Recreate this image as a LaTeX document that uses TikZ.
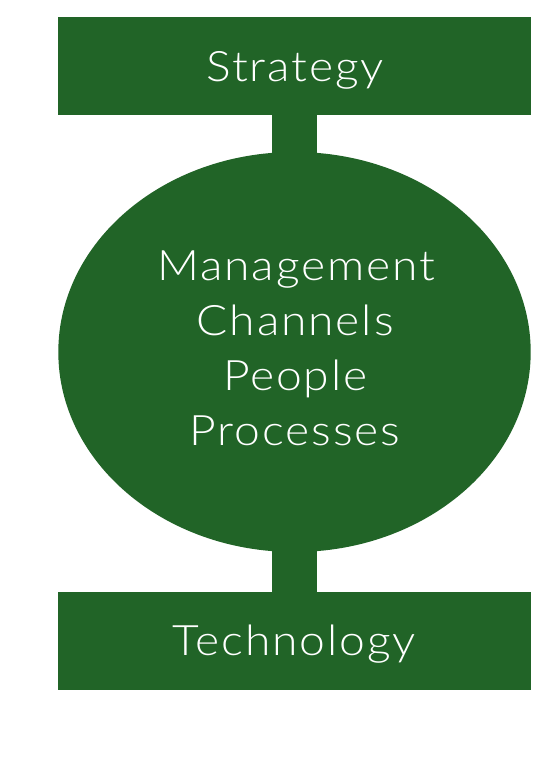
\documentclass[tikz,border=0pt]{standalone}
\usepackage{fontspec}
\IfFontExistsTF{Lato Light}{\setmainfont{Lato Light}[FakeStretch=1.1,LetterSpace=4.5]}{\setmainfont{Lato}[FakeStretch=1.1,LetterSpace=4.5]}
\usetikzlibrary{shapes.geometric}
\definecolor{dgreen}{RGB}{33,100,39}
\tikzset{
  box/.style={rectangle, fill=dgreen, draw=none, minimum width=472bp, minimum height=98bp, inner sep=0pt},
  oval/.style={ellipse, fill=dgreen, draw=none, minimum width=472.4bp, minimum height=400bp, inner sep=0pt},
  txt/.style={text=white, anchor=base, inner sep=0pt, font=\fontsize{42bp}{55bp}\selectfont},
  bar/.style={draw=dgreen, line width=45bp}
}
\begin{document}
\begin{tikzpicture}[x=1bp,y=-1bp]
\useasboundingbox (0,0) rectangle (548,781);
\node[box] (strat) at (294.5,66.3) {};
\node[box] (tech) at (294.5,640.5) {};
\node[oval] (mid) at (294.5,352) {};
\draw[bar] ([yshift=1bp]strat.south) -- ([yshift=-3bp]mid.north);
\draw[bar] ([yshift=3bp]mid.south) -- ([yshift=-1bp]tech.north);
\node[txt] (tstrat) at (295.2,81.7) {Strategy};
\node[txt] (m1) at (296.2,280) {Management};
\node[txt] (m2) at (295.2,335) {Channels};
\node[txt] (m3) at (295.2,390) {People};
\node[txt] (m4) at (295.2,445) {Processes};
\node[txt] (ttech) at (294.1,655) {Technology};
\end{tikzpicture}
\end{document}
